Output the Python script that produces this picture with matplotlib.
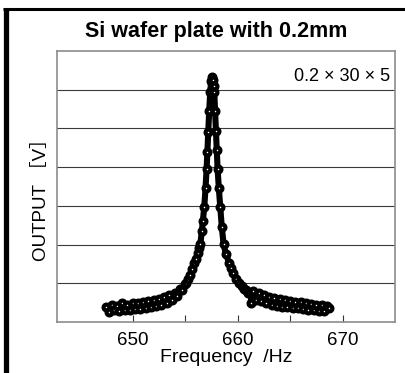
import matplotlib
matplotlib.use("Agg")
import matplotlib.pyplot as plt
from matplotlib.lines import Line2D
from matplotlib.ticker import FixedLocator, NullLocator

plt.rcParams['font.family'] = ['Liberation Sans', 'Noto Sans CJK JP', 'DejaVu Sans']

# Measured resonance sweep of the Si wafer plate (frequency in Hz, output in grid divisions)
freq_hz = [
    647.50, 647.75, 648.00, 648.25, 648.50, 648.75, 649.00, 649.25, 649.50, 649.75,
    650.00, 650.25, 650.50, 650.75, 651.00, 651.25, 651.50, 651.75, 652.00, 652.25,
    652.50, 652.75, 653.00, 653.25, 653.50, 653.75, 654.00, 654.25, 654.50, 654.75,
    655.00, 655.09, 655.30, 655.50, 655.70, 655.88, 656.05, 656.20, 656.33, 656.45,
    656.60, 656.70, 656.83, 656.95, 657.05, 657.13, 657.21, 657.30, 657.40, 657.48,
    657.56, 657.65, 657.72, 657.78, 657.86, 657.94, 658.02, 658.10, 658.22, 658.35,
    658.50, 658.67, 658.90, 659.21, 659.40, 659.60, 659.85, 660.16, 660.40, 660.60,
    660.80, 661.00, 661.30, 661.30, 661.50, 661.75, 662.00, 662.25, 662.50, 662.75,
    663.00, 663.25, 663.50, 663.75, 664.00, 664.25, 664.50, 664.75, 665.00, 665.25,
    665.50, 665.75, 666.00, 666.25, 666.50, 666.75, 667.00, 667.25, 667.50, 667.75,
    668.00, 668.25, 668.50, 668.73,
]
output_div = [
    0.39, 0.27, 0.45, 0.30, 0.42, 0.28, 0.48, 0.32, 0.45, 0.31,
    0.50, 0.34, 0.49, 0.34, 0.52, 0.37, 0.54, 0.39, 0.57, 0.42,
    0.60, 0.45, 0.64, 0.50, 0.69, 0.57, 0.76, 0.66, 0.86, 0.82,
    0.97, 1.00, 1.10, 1.22, 1.36, 1.52, 1.64, 1.78, 1.90, 2.01,
    2.35, 2.62, 2.98, 3.45, 3.95, 4.40, 4.92, 5.45, 5.95, 6.22,
    6.34, 6.25, 6.10, 5.95, 5.45, 4.94, 4.45, 3.95, 3.45, 2.98,
    2.45, 2.01, 1.75, 1.52, 1.40, 1.26, 1.12, 1.00, 0.93, 0.85,
    0.83, 0.75, 0.73, 0.48, 0.79, 0.57, 0.75, 0.53, 0.69, 0.48,
    0.65, 0.44, 0.62, 0.42, 0.60, 0.40, 0.57, 0.39, 0.54, 0.37,
    0.52, 0.36, 0.51, 0.34, 0.49, 0.32, 0.47, 0.30, 0.45, 0.29,
    0.43, 0.28, 0.41, 0.35,
]

x_ticks = [650, 655, 660, 665, 670]
x_labels = ['650', '', '660', '', '670']
grid_levels = [1, 2, 3, 4, 5, 6]

W, H = 406, 373
fig = plt.figure(figsize=(W / 100, H / 100), dpi=100)
ax = fig.add_axes([57 / W, 1 - 322 / H, (395 - 57) / W, (322 - 51) / H])

for lvl in grid_levels:
    ax.axhline(lvl, color='#3a3a3a', lw=0.8, zorder=1)

# Trace joining the samples, with open circles at each sample on top
ax.plot(freq_hz, output_div, '-', color='black', lw=4.4, zorder=3,
        solid_capstyle='round', solid_joinstyle='round')
ax.plot(freq_hz, output_div, 'o', ms=4.2, mfc='white', mec='black',
        mew=3.0, zorder=4)

ax.set_xlim(642.8, 675.0)
ax.set_ylim(0, 7)
ax.xaxis.set_major_locator(FixedLocator(x_ticks))
ax.set_xticklabels(x_labels)
ax.yaxis.set_major_locator(NullLocator())
ax.tick_params(axis='x', direction='in', length=5, width=0.8, color='#333333',
               labelsize=13.5, pad=7)
for sp in ax.spines.values():
    sp.set_color('#8c8c8c')
    sp.set_linewidth(1.2)

ax.set_xlabel('Frequency  /Hz', fontsize=14, labelpad=0)
ax.set_ylabel('OUTPUT ［V］', fontsize=13.5)
ax.yaxis.set_label_coords(-0.021, 0.47)

ax.text(0.987, 0.905, '0.2 × 30 × 5', transform=ax.transAxes, ha='right',
        va='center', fontsize=13)

fig.text(216 / W, 1 - 31 / H, 'Si wafer plate with 0.2mm', ha='center',
         va='center', fontsize=15.5, fontweight='bold')

# Outer frame: heavy rule along the left and top edges
fig.add_artist(Line2D([5.5 / W, 5.5 / W], [0, 1 - 8 / H], color='black', lw=3.8,
                      transform=fig.transFigure, solid_capstyle='butt'))
fig.add_artist(Line2D([3.5 / W, 1], [1 - 9 / H, 1 - 9 / H], color='black', lw=2.2,
                      transform=fig.transFigure, solid_capstyle='butt'))

fig.savefig('out.png', dpi=100)
